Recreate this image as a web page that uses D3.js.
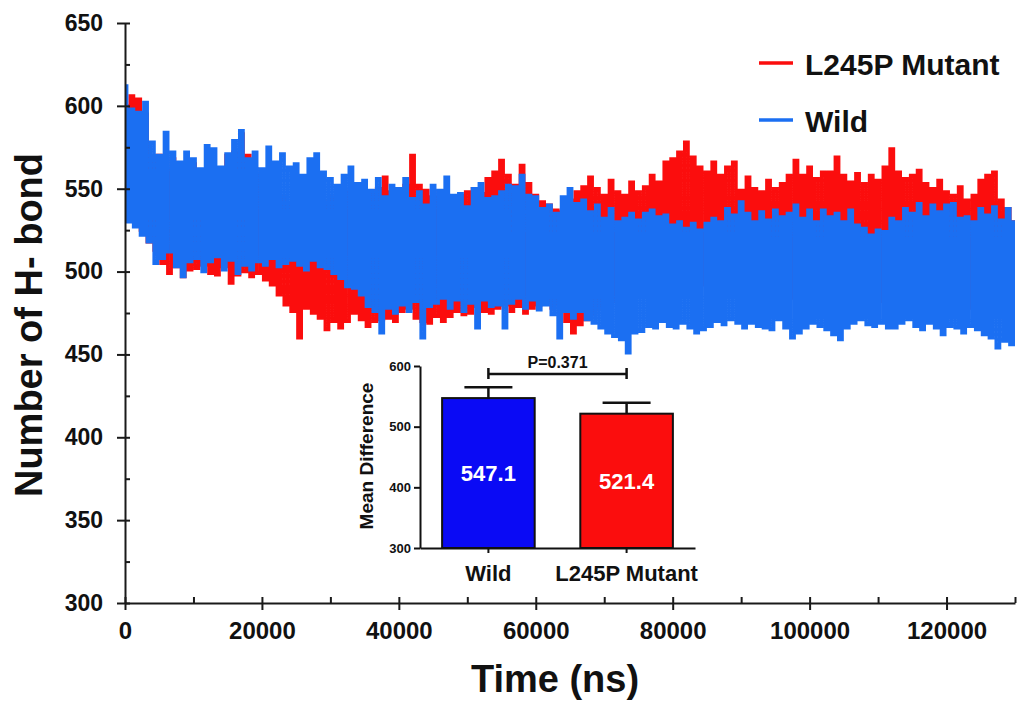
<!DOCTYPE html>
<html lang="en">
<head>
<meta charset="utf-8">
<title>Number of H-bond</title>
<script src="https://cdn.jsdelivr.net/npm/d3@7"></script>
<style>
body { margin: 0; background: #fff; }
text { font-family: "Liberation Sans", Arial, sans-serif; font-weight: bold; }
</style>
</head>
<body>
<script>

var width = 1018;
var height = 703;

// H-bond counts, one sample every 500 ns
var sampleStep = 500;

var mutantHbond = [
  600,540, 606,530, 604,525, 595,518, 568,513,
  570,505, 562,499, 568,503, 560,497, 556,501,
  565,502, 558,504, 555,499, 562,498, 560,503,
  570,493, 572,498, 583,500, 570,497, 562,499,
  558,495, 552,492, 548,486, 545,480, 540,476,
  538,460, 536,478, 535,475, 540,472, 542,465,
  545,470, 544,466, 548,470, 550,475, 546,471,
  542,467, 548,470, 550,471, 557,472, 548,470,
  547,476, 552,478, 570,472, 552,470, 549,469,
  545,473, 548,470, 546,473, 542,476, 546,474,
  548,475, 550,479, 547,476, 556,475, 560,478,
  567,480, 558,476, 552,479, 564,475, 553,478,
  546,480, 542,482, 540,478, 537,480, 536,470,
  543,463, 548,468, 551,471, 557,474, 550,478,
  546,480, 555,482, 548,485, 546,488, 554,486,
  548,490, 551,488, 558,490, 554,488, 566,492,
  568,490, 572,492, 578,488, 569,490, 563,492,
  560,488, 566,490, 558,486, 563,488, 566,490,
  549,486, 557,488, 550,485, 548,487, 555,484,
  550,488, 553,486, 558,484, 567,488, 558,485,
  563,487, 556,484, 560,486, 560,483, 569,485,
  558,482, 554,484, 559,480, 553,482, 558,484,
  555,482, 563,484, 574,480, 560,482, 556,478,
  558,480, 561,476, 553,472, 550,474, 555,478,
  548,480, 546,477, 551,474, 543,478, 546,476,
  555,474, 558,478, 560,475, 543,472, 538,476,
  530
];

var wildHbond = [
  612,530, 598,527, 596,522, 602,518, 578,505,
  570,508, 584,512, 572,503, 566,497, 572,506,
  568,508, 562,500, 576,506, 574,509, 563,501,
  571,507, 579,499, 585,504, 568,501, 572,506,
  562,504, 575,508, 566,503, 571,505, 563,507,
  565,504, 558,501, 568,507, 571,503, 560,502,
  556,499, 552,496, 558,491, 563,490, 553,486,
  555,479, 549,476, 556,463, 545,478, 552,475,
  550,480, 556,476, 544,482, 548,460, 540,479,
  552,481, 549,484, 557,478, 546,483, 547,476,
  539,481, 550,466, 553,483, 544,479, 545,480,
  548,466, 552,481, 551,484, 558,478, 546,483,
  545,477, 538,480, 540,474, 535,460, 545,476,
  550,472, 541,476, 543,471, 536,469, 540,466,
  532,463, 538,461, 530,459, 532,451, 535,463,
  531,464, 535,467, 537,466, 533,470, 534,467,
  528,466, 530,469, 526,466, 529,463, 525,465,
  529,467, 532,470, 530,468, 538,471, 534,469,
  542,466, 535,469, 530,467, 536,466, 531,465,
  537,471, 533,466, 535,460, 540,463, 532,466,
  537,469, 530,467, 537,465, 533,462, 535,459,
  530,466, 537,469, 528,471, 526,468, 522,467,
  525,469, 524,466, 532,466, 530,469, 538,471,
  535,467, 541,465, 533,469, 540,466, 536,462,
  540,467, 541,466, 532,463, 533,467, 530,465,
  538,462, 534,460, 539,454, 531,458, 538,456,
  530
];

var seriesNames = ["L245P Mutant", "Wild"];
var seriesColors = ["#fb0d0d", "#1b6ff2"];

var yTicks = [300, 350, 400, 450, 500, 550, 600, 650];
var yMinorTicks = [325, 375, 425, 475, 525, 575, 625];
var xTicks = [0, 20000, 40000, 60000, 80000, 100000, 120000];
var xMinorTicks = [10000, 30000, 50000, 70000, 90000, 110000, 130000];

// inset: mean H-bond count per system
var barGroups = ["Wild", "L245P Mutant"];
var barMeans = [547.1, 521.4];
var barErrors = [18, 18.2];
var barColors = ["#0a0af5", "#fb0d0d"];
var insetTicks = [300, 400, 500, 600];
var pValueText = "P=0.371";
var pBracketLevel = 587;

var svg = d3.select("body").append("svg")
            .attr("width", width)
            .attr("height", height)
            .style("background", "#fff");

var x = d3.scaleLinear().domain([0, 130000]).range([125, 1015]);
var y = d3.scaleLinear().domain([300, 650]).range([603, 23]);

// traces (mutant underneath, wild on top)
var line = d3.line()
             .x(function(d, i) { return x(i * sampleStep); })
             .y(function(d) { return y(d); })
             .curve(d3.curveStep);

[mutantHbond, wildHbond].forEach(function(series, i) {
  svg.append("path")
     .datum(series)
     .attr("d", line)
     .attr("fill", "none")
     .attr("stroke", seriesColors[i])
     .attr("stroke-width", 3.4);
});

// main axes
var yAxis = svg.append("g")
   .attr("transform", "translate(125,0)")
   .call(d3.axisLeft(y).tickValues(yTicks).tickSize(8).tickSizeOuter(0).tickPadding(14));
yAxis.selectAll(".tick line").attr("x1", 5);
yAxis.attr("font-size", 23);

svg.append("g")
   .attr("transform", "translate(125,0)")
   .call(d3.axisRight(y).tickValues(yMinorTicks).tickSize(5).tickFormat(""))
   .select(".domain").remove();

var xAxis = svg.append("g")
   .attr("transform", "translate(0,603)")
   .call(d3.axisBottom(x).tickValues(xTicks).tickSize(7).tickSizeOuter(0).tickPadding(12).tickFormat(d3.format("d")));
xAxis.selectAll(".tick line").attr("y1", -6);
xAxis.attr("font-size", 24);

svg.append("g")
   .attr("transform", "translate(0,603)")
   .call(d3.axisTop(x).tickValues(xMinorTicks).tickSize(6).tickFormat(""))
   .select(".domain").remove();

svg.selectAll(".domain, .tick line").attr("stroke", "#1a1a1a").attr("stroke-width", 2);
svg.selectAll(".tick text").attr("fill", "#111");

// axis titles
svg.append("text")
   .attr("transform", "translate(42,325) rotate(-90)")
   .attr("text-anchor", "middle")
   .attr("font-size", 38)
   .attr("fill", "#111")
   .text("Number of H- bond");

svg.append("text")
   .attr("x", 555)
   .attr("y", 692)
   .attr("text-anchor", "middle")
   .attr("font-size", 38)
   .attr("fill", "#111")
   .text("Time (ns)");

// legend
seriesNames.forEach(function(name, i) {
  var ly = 63 + i * 57;
  svg.append("line")
     .attr("x1", 759).attr("x2", 793)
     .attr("y1", ly).attr("y2", ly)
     .attr("stroke", seriesColors[i])
     .attr("stroke-width", 3.6);
  svg.append("text")
     .attr("x", 805)
     .attr("y", ly + 12)
     .attr("font-size", 30)
     .attr("fill", "#111")
     .text(name);
});

// inset bar chart
var inset = svg.append("g");
var xIn = d3.scaleBand().domain(barGroups).range([420, 695]).paddingInner(0.33).paddingOuter(0.16);
var yIn = d3.scaleLinear().domain([300, 600]).range([548, 366]);

inset.selectAll("rect")
     .data(barMeans)
     .enter()
     .append("rect")
     .attr("x", function(d, i) { return xIn(barGroups[i]); })
     .attr("y", function(d) { return yIn(d); })
     .attr("width", xIn.bandwidth())
     .attr("height", function(d) { return yIn(300) - yIn(d); })
     .attr("fill", function(d, i) { return barColors[i]; })
     .attr("stroke", "#111")
     .attr("stroke-width", 2);

barMeans.forEach(function(m, i) {
  var cx = xIn(barGroups[i]) + xIn.bandwidth() / 2;
  var top = yIn(m + barErrors[i]);
  inset.append("line")
       .attr("x1", cx).attr("x2", cx)
       .attr("y1", yIn(m)).attr("y2", top)
       .attr("stroke", "#111").attr("stroke-width", 2.5);
  inset.append("line")
       .attr("x1", cx - 24).attr("x2", cx + 24)
       .attr("y1", top).attr("y2", top)
       .attr("stroke", "#111").attr("stroke-width", 2.5);
  inset.append("text")
       .attr("x", cx)
       .attr("y", (yIn(m) + yIn(300)) / 2)
       .attr("dy", "0.35em")
       .attr("text-anchor", "middle")
       .attr("font-size", 22)
       .attr("fill", "#fff")
       .text(d3.format(".1f")(m));
});

// significance bracket
var bx1 = xIn(barGroups[0]) + xIn.bandwidth() / 2;
var bx2 = xIn(barGroups[1]) + xIn.bandwidth() / 2;
var by = yIn(pBracketLevel);
inset.append("path")
     .attr("d", "M" + bx1 + "," + (by - 6) + "V" + (by + 5) + "M" + bx1 + "," + by + "H" + bx2 +
                "M" + bx2 + "," + (by - 6) + "V" + (by + 5))
     .attr("fill", "none")
     .attr("stroke", "#111")
     .attr("stroke-width", 2.5);
inset.append("text")
     .attr("x", (bx1 + bx2) / 2)
     .attr("y", by - 6)
     .attr("text-anchor", "middle")
     .attr("font-size", 16)
     .attr("fill", "#111")
     .text(pValueText);

var inY = inset.append("g")
     .attr("transform", "translate(420,0)")
     .call(d3.axisLeft(yIn).tickValues(insetTicks).tickSize(6).tickSizeOuter(0).tickPadding(3));
inY.attr("font-size", 13);

var inX = inset.append("g")
     .attr("transform", "translate(0,548)")
     .call(d3.axisBottom(xIn).tickSize(5).tickSizeOuter(0).tickPadding(12));
inX.attr("font-size", 22);

inset.selectAll(".domain, .tick line").attr("stroke", "#111").attr("stroke-width", 2);
inset.selectAll(".tick text").attr("fill", "#111");

inset.append("text")
     .attr("transform", "translate(373,456) rotate(-90)")
     .attr("text-anchor", "middle")
     .attr("font-size", 19)
     .attr("fill", "#111")
     .text("Mean Difference");

</script>
</body>
</html>
